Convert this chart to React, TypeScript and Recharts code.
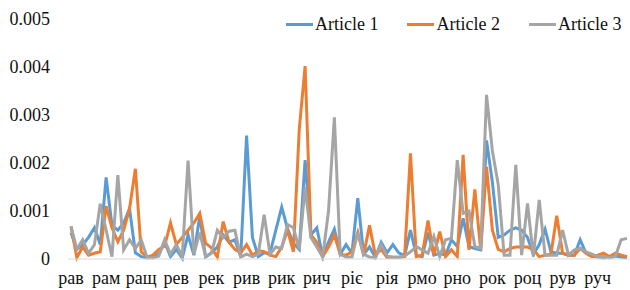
import { LineChart, Line, XAxis, YAxis } from 'recharts'

const categories = [
  'рав', 'раг', 'рад', 'раж', 'раз', 'рай', 'рам', 'ран', 'рап', 'рас', 'рат', 'рах',
  'ращ', 'рая', 'рва', 'рве', 'рви', 'рві', 'рев', 'рег', 'ред', 'реж', 'рез', 'рей',
  'рек', 'рел', 'рем', 'рен', 'реп', 'рес', 'рив', 'риг', 'рид', 'риж', 'риз', 'рий',
  'рик', 'рил', 'рим', 'рин', 'рип', 'рис', 'рич', 'риш', 'рищ', 'рию', 'рия', 'ріг',
  'ріє', 'ріж', 'різ', 'рій', 'рік', 'рін', 'рія', 'рла', 'рле', 'рлі', 'рма', 'рми',
  'рмо', 'рму', 'рна', 'рне', 'рни', 'рні', 'рно', 'рну', 'роб', 'ров', 'рог', 'род',
  'рок', 'рол', 'ром', 'рон', 'роп', 'рос', 'роц', 'роч', 'рош', 'рою', 'рпа', 'руб',
  'рув', 'руг', 'руд', 'руж', 'руз', 'рук', 'руч', 'руш', 'рщи', 'рюк', 'ряд', 'рям',
]

const article1 = [
  0.00055, 0.0002, 0.0003, 0.00045, 0.00065, 0.0003, 0.0017, 0.0007, 0.0006, 0.00075, 0.00105, 0.00013,
  0.00005, 0.00002, 0.00004, 0.0001, 0.00035, 0.00005, 0.0002, 0.00002, 0.0005, 0.00008, 0.0009, 0.00004,
  0.00013, 0.00025, 0.0005, 0.00035, 0.0004, 0.00005, 0.00257, 0.00045, 0.00005, 0.00013, 0.00012, 0.0006,
  0.00108, 0.00063, 0.00033, 0.0002, 0.00206, 0.0005, 0.00065, 0.00005, 0.00035, 0.00062, 0.0001, 0.0003,
  0.00012, 0.00127, 0.0001, 0.00025, 0.00004, 0.00035, 0.00013, 0.0003, 0.00013, 0.00007, 0.0006, 0.00008,
  0.00005, 0.00055, 0.00008, 0.00012, 0.00008, 0.0004, 0.00026, 0.00085, 0.00026, 0.00022, 0.00019, 0.00247,
  0.0016, 0.00045, 0.0005, 0.0006, 0.00065, 0.0006, 0.00045, 0.0001, 0.0003, 0.00062, 0.00015, 0.00012,
  0.00012, 0.00008, 0.00008, 0.0004, 0.00012, 0.00006, 0.00004, 0.00002, 0.00004, 0.00006, 0.00004, 0.00002,
]

const article2 = [
  0.00068, 0.00003, 0.00025, 0.00008, 0.00012, 0.00015, 0.0011, 0.00065, 0.00036, 0.0006, 0.00105, 0.00188,
  0.00015, 0.00004, 0.00008, 0.0002, 0.00027, 0.00075, 0.0003, 0.00045, 0.0006, 0.00075, 0.00095, 0.00033,
  0.00023, 0.00004, 0.00078, 0.00035, 0.0002, 0.00013, 0.0003, 0.00008, 0.00017, 0.00015, 0.00008, 0.00005,
  0.00025, 0.0006, 0.00015, 0.0027, 0.00402, 0.0005, 0.00035, 0.00005, 0.00025, 0.0005, 0.0001, 0.00008,
  0.00015, 0.00055, 0.00008, 0.0007, 0.00008, 0.0002, 0.00003, 0.00003, 0.00003, 0.00005, 0.0022, 0.00005,
  0.00008, 0.0008, 0.00008, 0.00057, 0.00005, 0.00019, 0.00005, 0.00217, 0.00019, 0.00145, 0.00019, 0.00192,
  0.0006, 0.0002, 0.00015, 0.00022, 0.00025, 0.00025, 0.00025, 0.0002, 0.00005, 0.00008, 0.0001, 0.0009,
  0.00012, 0.00008, 0.00008, 0.00022, 0.00012, 0.00005, 0.00008, 0.00012, 0.00005, 0.00012, 0.00008, 0.00005,
]

const article3 = [
  0.00068, 0.0002, 0.0004, 0.00012, 0.0003, 0.00115, 0.0006, 0.00005, 0.00175, 0.00019, 0.0004, 0.00022,
  0.0004, 0.00003, 0.00002, 0.00006, 0.0004, 0.0001, 0.0003, 0.00005, 0.00205, 0.0001, 0.00055, 0.00005,
  0.00012, 0.0006, 0.00045, 0.00058, 0.0006, 0.00004, 0.0001, 0.00005, 0.0001, 0.00092, 0.0001, 0.00025,
  0.00022, 0.00072, 0.00065, 0.0002, 0.0015, 0.00045, 0.00025, 0.00004, 0.001, 0.00295, 0.0001, 0.00004,
  0.00004, 0.00055, 0.0001, 0.00004, 0.00002, 0.0003, 0.00006, 0.00004, 0.00004, 0.00006, 0.00015, 0.00026,
  0.00019, 0.00012, 0.00047, 0.00005, 0.0004, 0.00043, 0.00206, 0.00095, 0.001, 0.00026, 0.00022, 0.00342,
  0.00225, 0.00155, 0.00008, 0.00008, 0.00196, 0.00008, 0.00116, 0.00005, 0.00123, 0.00008, 0.00008, 0.00008,
  0.0006, 0.00008, 0.00019, 0.00022, 0.00015, 0.0001, 0.00005, 0.00005, 0.00002, 0.00005, 0.0004, 0.00043,
]

const yTicks = [0, 0.001, 0.002, 0.003, 0.004, 0.005]

const seriesInfo = [
  { key: 'a1', name: 'Article 1', color: '#5B9BD5' },
  { key: 'a2', name: 'Article 2', color: '#ED7D31' },
  { key: 'a3', name: 'Article 3', color: '#A5A5A5' },
]

const data = categories.map((c, i) => ({
  cat: c,
  a1: article1[i],
  a2: article2[i],
  a3: article3[i],
}))

const font = '"Liberation Serif", "Times New Roman", serif'
const textColor = '#111'

const fmtY = (v: number) => (v === 0 ? '0' : v.toFixed(3))

const tickText = { fontFamily: font, fontSize: 18 }

function XTick({ x, y, payload }: any) {
  return (
    <text x={x} y={y + 18} textAnchor="middle" fill={textColor} style={tickText}>
      {payload.value}
    </text>
  )
}

function YTick({ x, y, payload }: any) {
  return (
    <text x={x} y={y + 6} textAnchor="end" fill={textColor} style={tickText}>
      {fmtY(payload.value)}
    </text>
  )
}

// legend drawn as plain html over the chart so it doesn't shrink the plot
function LegendBox() {
  return (
    <div
      style={{
        position: 'absolute', left: 286, top: 12, display: 'flex', alignItems: 'center',
        whiteSpace: 'nowrap', fontFamily: font, fontSize: 18, lineHeight: '24px', color: textColor,
      }}
    >
      {seriesInfo.map((s) => (
        <div key={s.key} style={{ display: 'flex', alignItems: 'center', marginRight: 29 }}>
          <div style={{ width: 27, height: 3, background: s.color, marginRight: 2 }} />
          <span>{s.name}</span>
        </div>
      ))}
    </div>
  )
}

export default function App() {
  return (
    <div style={{ position: 'absolute', left: 0, top: 0, width: 630, height: 290, background: '#fff' }}>
      <LineChart width={630} height={290} data={data} margin={{ top: 19, right: 0, bottom: 0, left: 0 }}>
        <XAxis
          dataKey="cat"
          interval={5}
          height={31}
          padding={{ left: 3, right: 3 }}
          tickLine={false}
          tickSize={0}
          tickMargin={7}
          axisLine={{ stroke: '#d9d9d9', strokeWidth: 1 }}
          tick={<XTick />}
        />
        <YAxis
          width={68}
          domain={[0, 0.005]}
          ticks={yTicks}
          axisLine={false}
          tickLine={false}
          tickSize={0}
          tickMargin={18}
          tick={<YTick />}
        />
        {seriesInfo.map((s) => (
          <Line
            key={s.key}
            type="linear"
            dataKey={s.key}
            name={s.name}
            stroke={s.color}
            strokeWidth={3}
            dot={false}
            isAnimationActive={false}
          />
        ))}
      </LineChart>
      <LegendBox />
    </div>
  )
}
